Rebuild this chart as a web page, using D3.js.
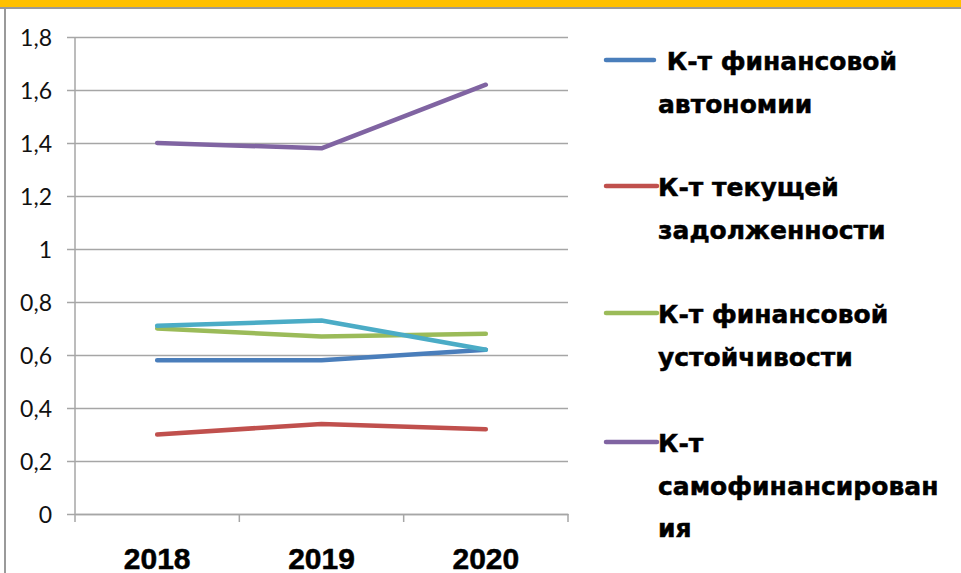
<!DOCTYPE html>
<html>
<head>
<meta charset="utf-8">
<script src="https://cdn.jsdelivr.net/npm/d3@7"></script>
<style>
  body { margin: 0; background: #fff; }
  svg { display: block; }
  .ytick text { font-family: Lato, "Liberation Sans", Arial, sans-serif; font-size: 23px; fill: #111; }
  .xtick text { font-family: "Liberation Sans", Arial, sans-serif; font-weight: bold; font-size: 30px; fill: #000; stroke: #000; stroke-width: 0.5px; }
  .legend text { font-family: "DejaVu Sans", Arial, sans-serif; font-weight: bold; font-size: 25px; fill: #000; stroke: #000; stroke-width: 0.5px; }
</style>
</head>
<body>
<div id="chart"></div>
<script>
// data
var years = ["2018", "2019", "2020"];
var yTicks = [0, 0.2, 0.4, 0.6, 0.8, 1, 1.2, 1.4, 1.6, 1.8];

var finAutonomy   = [0.58, 0.58, 0.62];
var currentDebt   = [0.30, 0.34, 0.32];
var finStability  = [0.70, 0.67, 0.68];
var selfFinancing = [1.40, 1.38, 1.62];
var extraSeries   = [0.71, 0.73, 0.62];   // cyan line, not in legend

var seriesNames = [
  [" К-т финансовой", "автономии"],
  ["К-т текущей", "задолженности"],
  ["К-т финансовой", "устойчивости"],
  ["К-т", "самофинансирован", "ия"]
];

var W = 961, H = 573;
var svg = d3.select("#chart").append("svg")
    .attr("width", W)
    .attr("height", H);

// frame: orange strip on top, gray edges
svg.append("rect").attr("x", 0).attr("y", 0).attr("width", W).attr("height", 7).attr("fill", "#ffc000");
svg.append("line").attr("x1", 0).attr("x2", W).attr("y1", 8).attr("y2", 8)
   .attr("stroke", "#9a9a9a").attr("stroke-width", 2);
svg.append("line").attr("x1", 5).attr("x2", 5).attr("y1", 8).attr("y2", H)
   .attr("stroke", "#9a9a9a").attr("stroke-width", 2);

var plotLeft = 75, plotRight = 568, plotTop = 37, plotBottom = 514;

var x = d3.scaleBand().domain(years).range([plotLeft, plotRight]);
var y = d3.scaleLinear().domain([0, 1.8]).range([plotBottom, plotTop]);

// grid lines + y tick marks
var yAxis = d3.axisLeft(y)
    .tickValues(yTicks)
    .tickSize(8)
    .tickFormat(function(d) { return d3.format("")(d).replace(".", ","); });

var gy = svg.append("g")
    .attr("class", "ytick")
    .attr("transform", "translate(" + plotLeft + ",0)")
    .call(yAxis);
gy.select(".domain").remove();
gy.selectAll(".tick line")
    .attr("x1", -8)
    .attr("x2", plotRight - plotLeft)
    .attr("stroke", "#a6a6a6")
    .attr("stroke-width", 1.5);
gy.selectAll(".tick text").attr("x", -23).attr("dy", "0.35em");

// y axis line
svg.append("line")
    .attr("x1", plotLeft).attr("x2", plotLeft)
    .attr("y1", plotTop).attr("y2", plotBottom + 8)
    .attr("stroke", "#a6a6a6").attr("stroke-width", 1.5);

// x axis
var xAxis = d3.axisBottom(x).tickSize(0).tickPadding(0);
var gx = svg.append("g")
    .attr("class", "xtick")
    .attr("transform", "translate(0," + plotBottom + ")")
    .call(xAxis);
gx.select(".domain").attr("stroke", "#a6a6a6").attr("stroke-width", 1.5);
gx.selectAll(".tick text").attr("y", 55).attr("dy", 0);

// category separators on x axis
var bounds = years.slice(1).map(function(d) { return x(d); }).concat([plotRight]);
svg.append("g").selectAll("line")
    .data(bounds)
  .enter().append("line")
    .attr("x1", function(d) { return d; })
    .attr("x2", function(d) { return d; })
    .attr("y1", plotBottom)
    .attr("y2", plotBottom + 8)
    .attr("stroke", "#a6a6a6")
    .attr("stroke-width", 1.5);

var line = d3.line()
    .x(function(d, i) { return x(years[i]) + x.bandwidth() / 2; })
    .y(function(d) { return y(d); });

var series = [
  { values: currentDebt,   color: "#c0504d" },
  { values: finAutonomy,   color: "#4a7ebb" },
  { values: finStability,  color: "#9bbb59" },
  { values: extraSeries,   color: "#4bacc6" },
  { values: selfFinancing, color: "#8064a2" }
];

svg.append("g").selectAll("path")
    .data(series)
  .enter().append("path")
    .attr("d", function(d) { return line(d.values); })
    .attr("fill", "none")
    .attr("stroke", function(d) { return d.color; })
    .attr("stroke-width", 4.5)
    .attr("stroke-linecap", "round")
    .attr("stroke-linejoin", "round");

// legend
var legendColors = ["#4a7ebb", "#c0504d", "#9bbb59", "#8064a2"];
var legendY = [60, 186, 313, 442];
var lg = svg.append("g").attr("class", "legend");

seriesNames.forEach(function(lines, i) {
  var g = lg.append("g").attr("transform", "translate(0," + legendY[i] + ")");
  g.append("line")
      .attr("x1", 606).attr("x2", i === 0 ? 654 : 657)
      .attr("y1", 0).attr("y2", 0)
      .attr("stroke", legendColors[i])
      .attr("stroke-width", 4.5)
      .attr("stroke-linecap", "round");
  var t = g.append("text").attr("x", 658).attr("y", 10).attr("xml:space", "preserve");
  lines.forEach(function(s, j) {
    t.append("tspan").attr("x", 658).attr("dy", j === 0 ? 0 : 42.5).text(s);
  });
});
</script>
</body>
</html>
